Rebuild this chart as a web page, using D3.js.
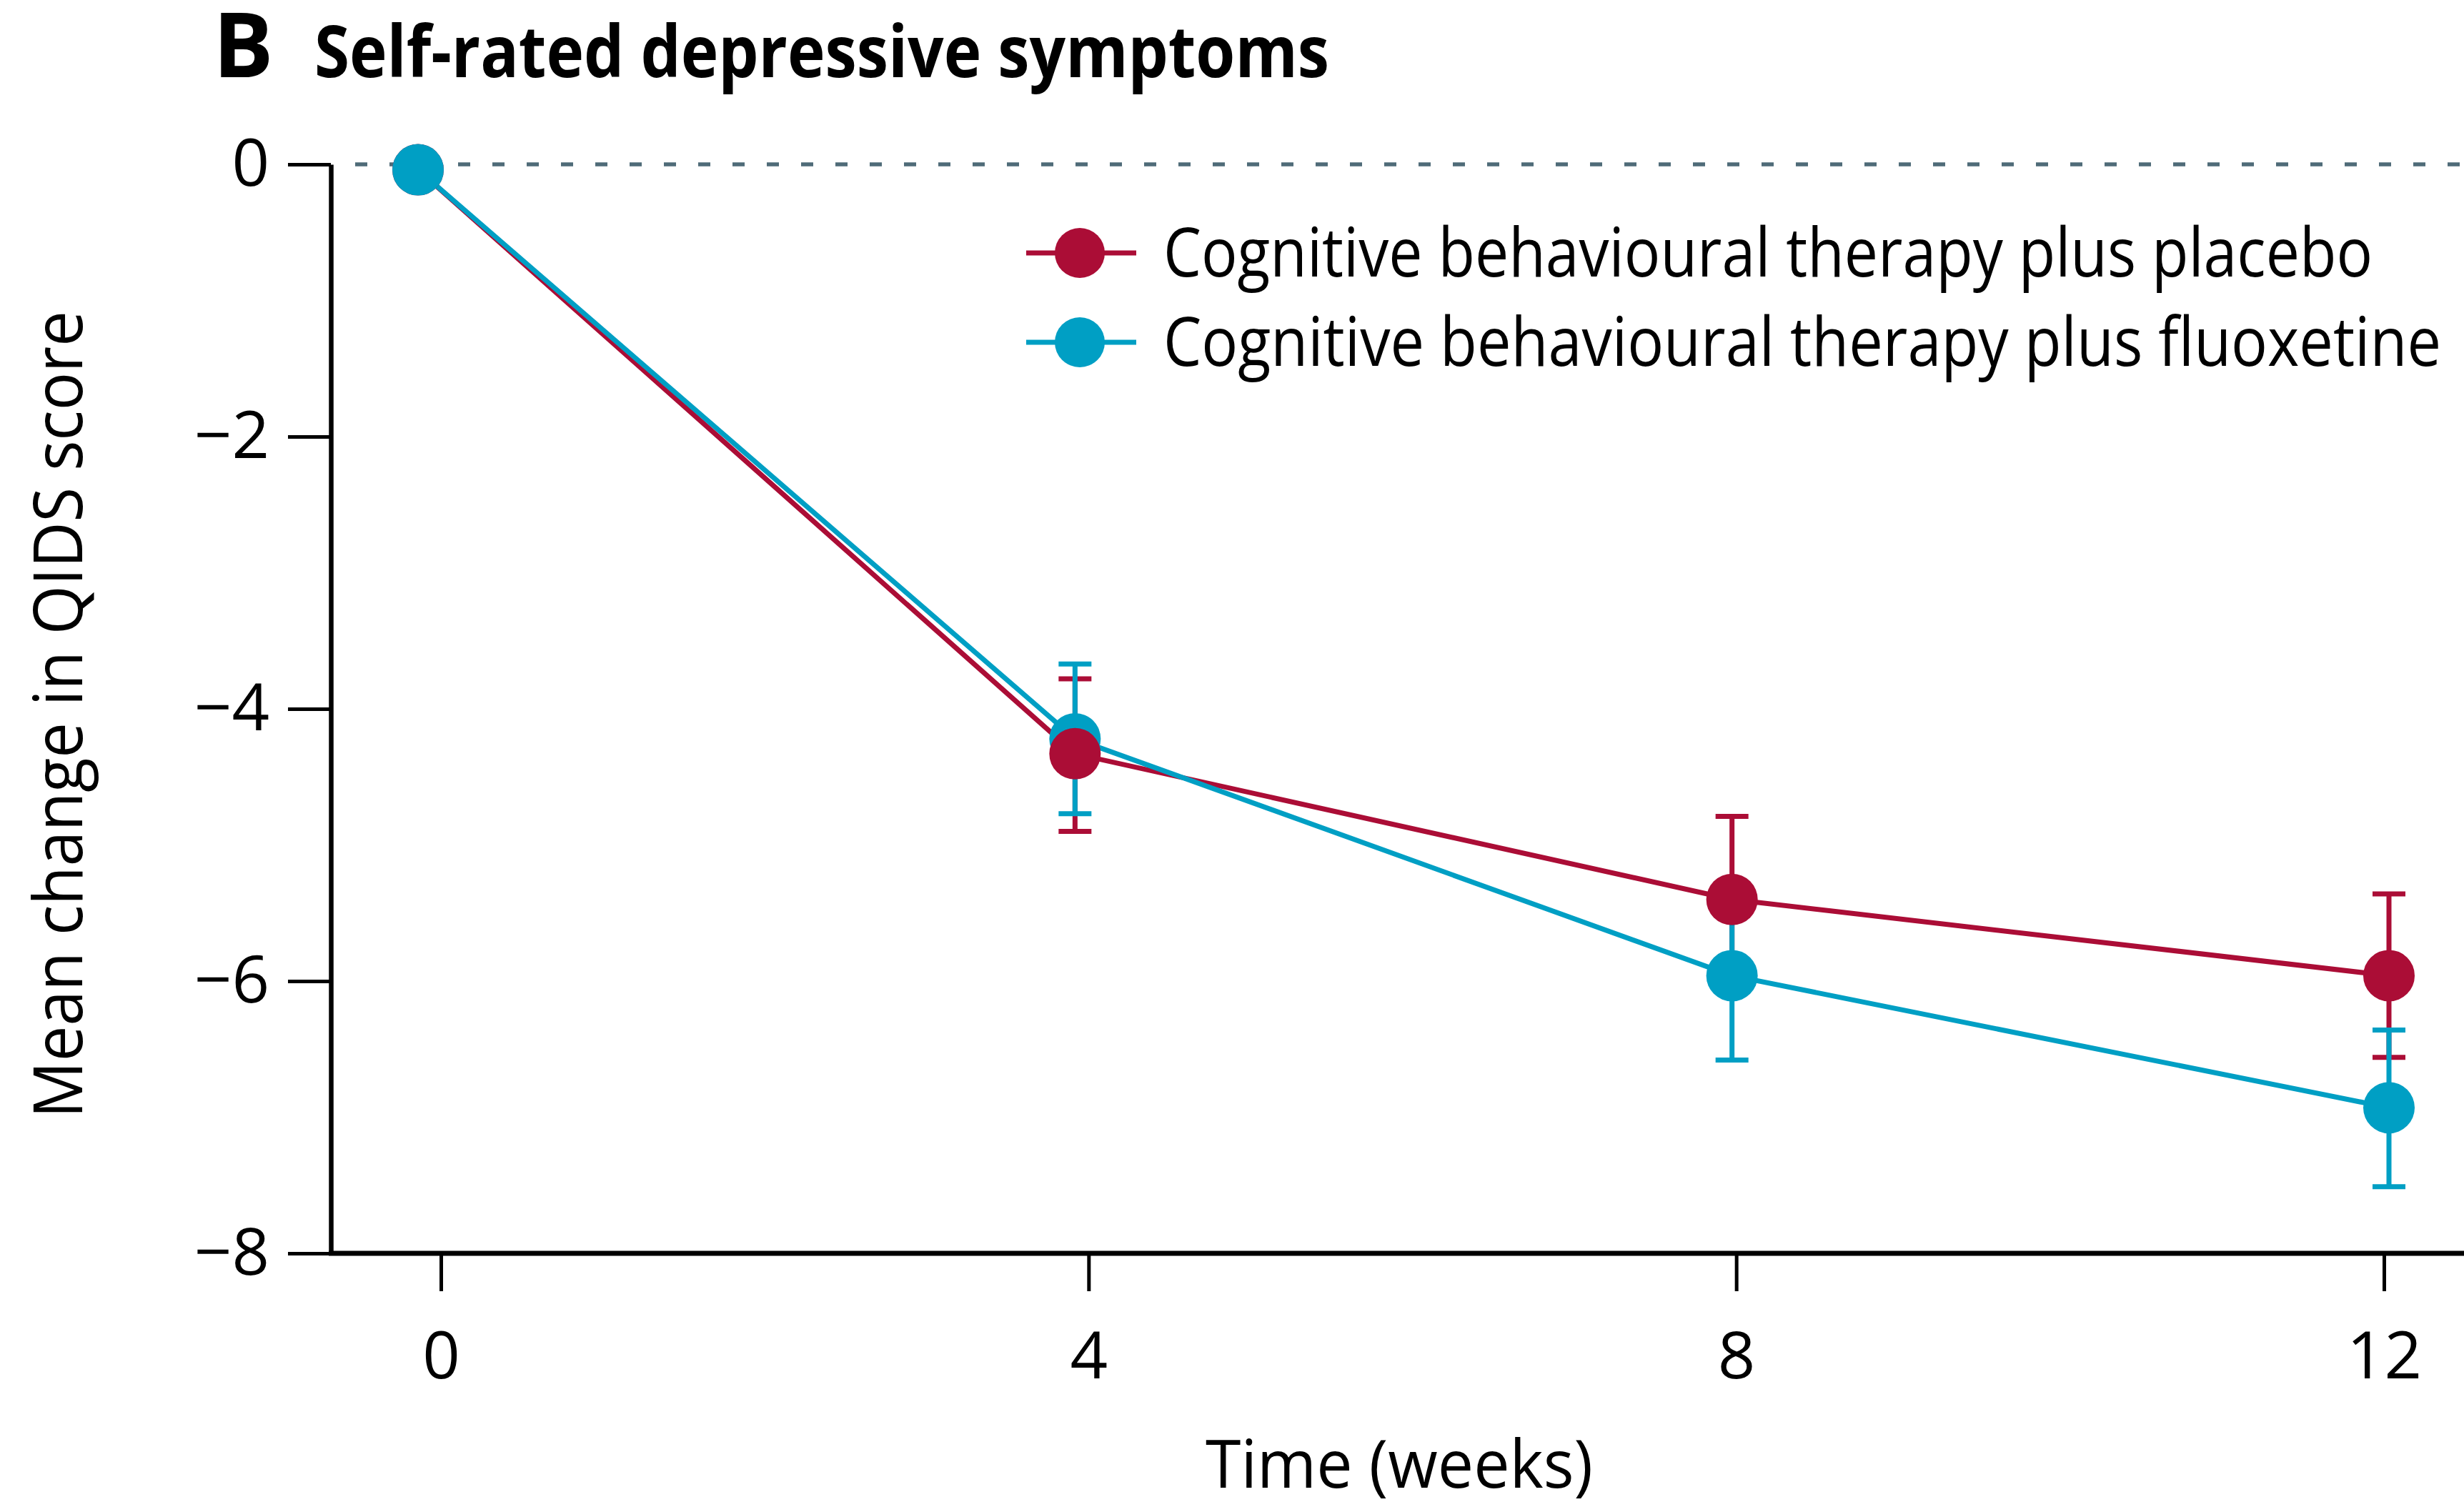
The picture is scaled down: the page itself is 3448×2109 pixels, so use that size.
<!DOCTYPE html>
<html>
<head>
  <meta charset="UTF-8" />
  <title>Self-rated depressive symptoms</title>
  <script src="https://cdn.jsdelivr.net/npm/d3@7"></script>
  <style>
    body {
      margin: 0;
      background: #fff;
    }
    svg text {
      font-family: 'Open Sans', sans-serif;
      fill: #000;
    }
  </style>
</head>
<body>
  <div id="chart"></div>
  <script>
    // Values (weeks, mean change, 95% CI ends)
    const weeks = [0, 4, 8, 12]
    const xTicks = [0, 4, 8, 12]
    const yTicks = [0, -2, -4, -6, -8]

    const placeboMean = [-0.04, -4.33, -5.4, -5.96]
    const placeboUpper = [null, -3.78, -4.79, -5.36]
    const placeboLower = [null, -4.9, -6.01, -6.56]

    const fluoxMean = [-0.04, -4.22, -5.96, -6.93]
    const fluoxUpper = [null, -3.67, -5.34, -6.36]
    const fluoxLower = [null, -4.77, -6.58, -7.51]

    const seriesNames = [
      'Cognitive behavioural therapy plus placebo',
      'Cognitive behavioural therapy plus fluoxetine',
    ]
    const colors = ['#ab0d36', '#009fc4']

    const width = 3448
    const height = 2109

    const svg = d3
      .select('#chart')
      .append('svg')
      .attr('width', width)
      .attr('height', height)

    // Scales: the axis ticks and the plotted points sit slightly apart in the original
    const xAxisScale = d3.scaleLinear().domain([0, 12]).range([617, 3336])
    const xMark = d3.scaleLinear().domain([0, 12]).range([585, 3343])
    const y = d3.scaleLinear().domain([0, -8]).range([230, 1754])
    const axisX = 463

    const series = [
      { name: seriesNames[0], color: colors[0], mean: placeboMean, upper: placeboUpper, lower: placeboLower },
      { name: seriesNames[1], color: colors[1], mean: fluoxMean, upper: fluoxUpper, lower: fluoxLower },
    ].map((s) => ({
      ...s,
      points: weeks.map((w, i) => ({ week: w, mean: s.mean[i], upper: s.upper[i], lower: s.lower[i] })),
    }))

    // Title
    svg.append('text')
      .attr('x', 298).attr('y', 108)
      .attr('font-size', 126).attr('font-weight', 700)
      .text('B')
    svg.append('text')
      .attr('x', 440).attr('y', 108)
      .attr('font-size', 100).attr('font-weight', 700)
      .attr('textLength', 1420).attr('lengthAdjust', 'spacingAndGlyphs')
      .text('Self-rated depressive symptoms')

    // Dashed zero line
    svg.append('line')
      .attr('x1', 497).attr('x2', width)
      .attr('y1', y(0)).attr('y2', y(0))
      .attr('stroke', '#4f6b78').attr('stroke-width', 5.5)
      .attr('stroke-dasharray', '17 31')

    // Y axis
    const yAxis = svg.append('g')
      .attr('transform', `translate(${axisX},0)`)
      .call(
        d3.axisLeft(y)
          .tickValues(yTicks)
          .tickSize(60)
          .tickSizeOuter(0)
          .tickPadding(26)
          .tickFormat((d) => (d === 0 ? '0' : '\u2212' + Math.abs(d)))
      )
    yAxis.select('.domain').attr('stroke', '#000').attr('stroke-width', 6.5)
    yAxis.selectAll('.tick line').attr('stroke', '#000').attr('stroke-width', 5)
    yAxis.selectAll('.tick text').attr('font-size', 92).attr('fill', '#000')
    yAxis.attr('font-family', null).attr('font-size', null)

    // X axis
    const xAxis = svg.append('g')
      .attr('transform', `translate(0,${y(-8)})`)
      .call(
        d3.axisBottom(xAxisScale)
          .tickValues(xTicks)
          .tickSize(53)
          .tickPadding(57)
          .tickFormat(d3.format('d'))
      )
    xAxis.select('.domain').remove()
    xAxis.selectAll('.tick line').attr('stroke', '#000').attr('stroke-width', 5)
    xAxis.selectAll('.tick text').attr('font-size', 92).attr('fill', '#000')
    xAxis.attr('font-family', null).attr('font-size', null)
    svg.append('line')
      .attr('x1', axisX - 3).attr('x2', width)
      .attr('y1', y(-8)).attr('y2', y(-8))
      .attr('stroke', '#000').attr('stroke-width', 7)

    // Axis titles
    svg.append('text')
      .attr('transform', `translate(115,${(y.range()[0] + y.range()[1]) / 2 + 8}) rotate(-90)`)
      .attr('text-anchor', 'middle')
      .attr('font-size', 96)
      .attr('textLength', 1130).attr('lengthAdjust', 'spacingAndGlyphs')
      .text('Mean change in QIDS score')
    svg.append('text')
      .attr('x', 1958).attr('y', 2082)
      .attr('text-anchor', 'middle')
      .attr('font-size', 94)
      .attr('textLength', 542).attr('lengthAdjust', 'spacingAndGlyphs')
      .text('Time (weeks)')

    // Error bars
    const capHalf = 23
    series.forEach((s) => {
      const g = svg.append('g').attr('stroke', s.color).attr('stroke-width', 7)
      const pts = s.points.filter((p) => p.upper !== null)
      g.selectAll('line.bar').data(pts).join('line')
        .attr('x1', (d) => xMark(d.week)).attr('x2', (d) => xMark(d.week))
        .attr('y1', (d) => y(d.upper)).attr('y2', (d) => y(d.lower))
      g.selectAll('line.capU').data(pts).join('line').attr('class', 'capU')
        .attr('x1', (d) => xMark(d.week) - capHalf).attr('x2', (d) => xMark(d.week) + capHalf)
        .attr('y1', (d) => y(d.upper)).attr('y2', (d) => y(d.upper))
      g.selectAll('line.capL').data(pts).join('line').attr('class', 'capL')
        .attr('x1', (d) => xMark(d.week) - capHalf).attr('x2', (d) => xMark(d.week) + capHalf)
        .attr('y1', (d) => y(d.lower)).attr('y2', (d) => y(d.lower))
    })

    // Lines
    const line = d3.line().x((d) => xMark(d.week)).y((d) => y(d.mean))
    series.forEach((s) => {
      svg.append('path')
        .datum(s.points)
        .attr('d', line)
        .attr('fill', 'none')
        .attr('stroke', s.color)
        .attr('stroke-width', 7)
    })

    // Points: red dots sit over blue ones except at baseline
    const dotR = 36
    const dotGroups = series.map((s) =>
      svg.append('g').selectAll('circle').data(s.points).join('circle')
        .attr('cx', (d) => xMark(d.week))
        .attr('cy', (d) => y(d.mean))
        .attr('r', dotR)
        .attr('fill', s.color)
    )
    dotGroups[0].filter((d) => d.week > 0).each(function () {
      svg.node().appendChild(this)
    })
    // keep baseline fluoxetine dot on top
    dotGroups[1].filter((d) => d.week === 0).each(function () {
      svg.node().appendChild(this)
    })

    // Legend
    const legendY = [354, 479]
    const legend = svg.append('g')
    series.forEach((s, i) => {
      legend.append('line')
        .attr('x1', 1436).attr('x2', 1590)
        .attr('y1', legendY[i]).attr('y2', legendY[i])
        .attr('stroke', s.color).attr('stroke-width', 7)
      legend.append('circle')
        .attr('cx', 1511).attr('cy', legendY[i]).attr('r', 35)
        .attr('fill', s.color)
      legend.append('text')
        .attr('x', 1628).attr('y', legendY[i] + 33)
        .attr('font-size', 95)
        .attr('textLength', i === 0 ? 1692 : 1788)
        .attr('lengthAdjust', 'spacingAndGlyphs')
        .text(s.name)
    })
  </script>
</body>
</html>
